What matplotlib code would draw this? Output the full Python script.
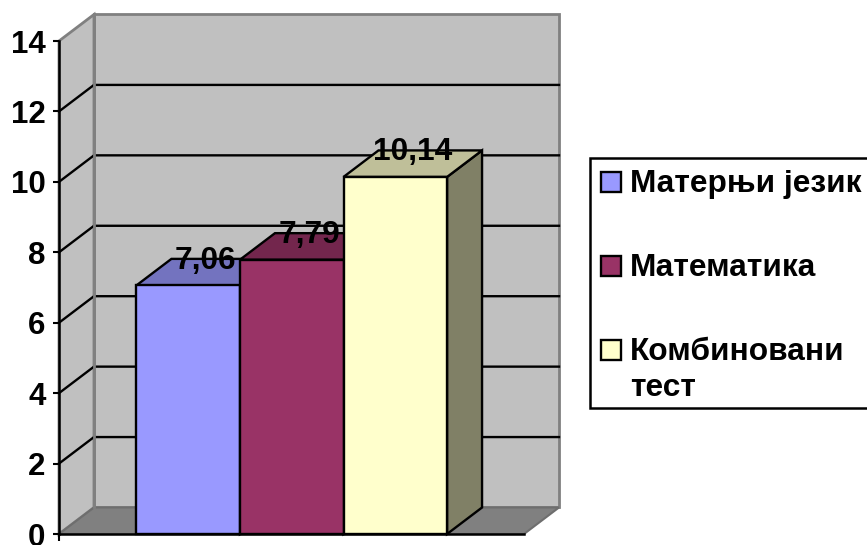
import matplotlib
matplotlib.use('Agg')
import matplotlib.pyplot as plt
from matplotlib.colors import to_rgb
from matplotlib.patches import Rectangle

plt.rcParams['font.family'] = ['Liberation Sans', 'DejaVu Sans']
plt.rcParams['font.weight'] = 'bold'

# Data
categories = ['Матерњи језик', 'Математика', 'Комбиновани\nтест']
values = [7.06, 7.79, 10.14]
colors = ['#9999FF', '#993366', '#FFFFCC']
y_ticks = [0, 2, 4, 6, 8, 10, 12, 14]

W, H = 867, 545
fig = plt.figure(figsize=(W / 100, H / 100), dpi=100)
# plot rect of the front plane, in pixels
left, right, top, bottom = 59, 524, 41, 534
ax = fig.add_axes([left / W, 1 - bottom / H, (right - left) / W, (bottom - top) / H])

# bars have width 1, so the bar edges sit at -0.5, 0.5, ...
x_min, x_max = -1.248, 3.243
ax.set_xlim(x_min, x_max)
ax.set_ylim(0, 14)

# fake 3D depth in data units
dx = 35 / 103.6
dy = 26.5 / 35.2
wall_grey = '#C0C0C0'
edge_grey = '#808080'

# walls and floor
ax.fill([x_min + dx, x_max + dx, x_max + dx, x_min + dx], [dy, dy, 14 + dy, 14 + dy],
        fc=wall_grey, ec=edge_grey, lw=2, clip_on=False, zorder=1, joinstyle='miter')
ax.fill([x_min, x_min + dx, x_min + dx, x_min], [0, dy, 14 + dy, 14],
        fc=wall_grey, ec=edge_grey, lw=2, clip_on=False, zorder=1, joinstyle='miter')
ax.fill([x_min, x_min + dx, x_max + dx, x_max], [0, dy, dy, 0],
        fc=edge_grey, ec='#6E6E6E', lw=1.5, clip_on=False, zorder=1, joinstyle='miter')

# grid lines across the walls
for t in y_ticks[1:-1]:
    ax.plot([x_min, x_min + dx, x_max + dx], [t, t + dy, t + dy], color='black', lw=1.7,
            clip_on=False, zorder=2, solid_joinstyle='miter')
# the wall corner sits over the grid lines
ax.plot([x_min + dx, x_min + dx], [dy, 14 + dy], color=edge_grey, lw=2, clip_on=False, zorder=2.5)

# bars
for i, (v, c) in enumerate(zip(values, colors)):
    base = to_rgb(c)
    top_col = tuple(ch * 0.75 for ch in base)
    side_col = tuple(ch * 0.5 for ch in base)
    x0, x1 = i - 0.5, i + 0.5
    z = 3 + i
    ax.fill([x1, x1 + dx, x1 + dx, x1], [0, dy, v + dy, v], fc=side_col, ec='black', lw=1.7,
            clip_on=False, zorder=z, joinstyle='miter')
    ax.fill([x0, x0 + dx, x1 + dx, x1], [v, v + dy, v + dy, v], fc=top_col, ec='black', lw=1.7,
            clip_on=False, zorder=z, joinstyle='miter')
    ax.bar(i, v, width=1, color=c, edgecolor='black', linewidth=1.7, zorder=z, clip_on=False)

# data labels go over everything
for i, v in enumerate(values):
    ax.text(i + dx / 2, v + dy - 0.05, f'{v:.2f}'.replace('.', ','), ha='center', va='center',
            fontsize=22.8, fontweight='bold', color='black', zorder=10, clip_on=False)

# axes
for s in ['top', 'right']:
    ax.spines[s].set_visible(False)
for s in ['left', 'bottom']:
    ax.spines[s].set_linewidth(1.8)
    ax.spines[s].set_zorder(8)
ax.patch.set_visible(False)
ax.set_yticks(y_ticks)
ax.tick_params(axis='y', length=4.3, width=1.5, pad=5.5, labelsize=22.5)
ax.set_xticks([x_min])
ax.set_xticklabels([''])
ax.tick_params(axis='x', length=5, width=1.5)


def fig_rect(x0, y0, x1, y1, **kw):
    """Add a rectangle given in picture pixels (y down)."""
    fig.add_artist(Rectangle((x0 / W, 1 - y1 / H), (x1 - x0) / W, (y1 - y0) / H,
                             transform=fig.transFigure, **kw))


# legend by hand: the wrapped entry has its key on the first line and the frame runs off the right edge
fig_rect(590, 157.5, W + 10, 408, fc='white', ec='black', lw=1.8)
baselines = [192, 276, 360]
line_gap = 36
for name, c, base_y in zip(categories, colors, baselines):
    fig_rect(600.5, base_y - 20, 621, base_y, fc=c, ec='black', lw=1.7)
    for n, line in enumerate(name.split('\n')):
        fig.text(630 / W, 1 - (base_y + n * line_gap) / H, line, fontsize=22.8, fontweight='bold',
                 color='black', ha='left', va='baseline')

fig.savefig('out.png', dpi=100)
